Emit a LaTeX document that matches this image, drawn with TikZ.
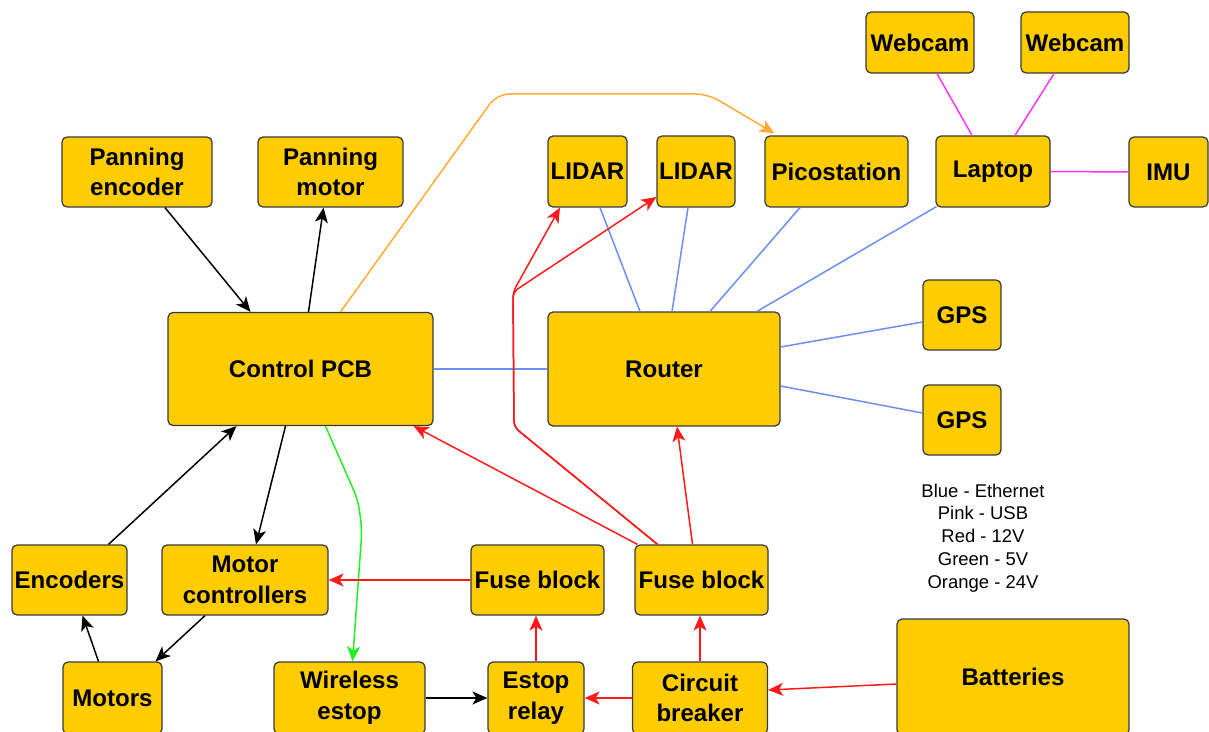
\documentclass[tikz,border=0pt]{standalone}
\usepackage{fontspec}
\setmainfont{Liberation Sans}
\usetikzlibrary{arrows.meta,calc}
\definecolor{boxfill}{HTML}{FFCC00}
\definecolor{boxline}{HTML}{36393D}
\definecolor{ethblue}{HTML}{6C8EF5}
\definecolor{usbpink}{HTML}{FF33FF}
\definecolor{pwrred}{HTML}{FF1A1A}
\definecolor{pwrgreen}{HTML}{22F022}
\definecolor{pwrorange}{HTML}{FFAA33}
\begin{document}
\begin{tikzpicture}[
  x=0.02cm, y=-0.02cm,
  box/.style={draw=boxline, fill=boxfill, rounded corners=0.1cm, align=center,
              inner sep=0pt, line width=0.7pt,
              font=\fontsize{13.7}{17.5}\selectfont\bfseries},
  wire/.style={line width=0.85pt},
  >={Stealth[length=0.3cm, width=0.26cm, inset=0.08cm]}
]
\useasboundingbox (0,0) rectangle (1209,732);

\node[box, minimum width=3.0cm,  minimum height=1.4cm]  (penc)   at (137,172)   {Panning\\encoder};
\node[box, minimum width=2.9cm,  minimum height=1.4cm]  (pmot)   at (330.5,172) {Panning\\motor};
\node[box, minimum width=5.3cm,  minimum height=2.26cm] (pcb)    at (300.5,369) {Control PCB};
\node[box, minimum width=4.64cm, minimum height=2.28cm] (router) at (664,369)   {Router};
\node[box, minimum width=1.58cm, minimum height=1.42cm] (lidara) at (587.5,171.5) {LIDAR};
\node[box, minimum width=1.56cm, minimum height=1.42cm] (lidarb) at (696,171.5) {LIDAR};
\node[box, minimum width=2.86cm, minimum height=1.42cm] (pico)   at (836.5,171.5) {Picostation};
\node[box, minimum width=2.28cm, minimum height=1.42cm] (laptop) at (993,171.5) {Laptop};
\node[box, minimum width=1.58cm, minimum height=1.4cm]  (imu)    at (1168.5,172) {IMU};
\node[box, minimum width=2.16cm, minimum height=1.22cm] (cama)   at (920,42.5)  {Webcam};
\node[box, minimum width=2.16cm, minimum height=1.22cm] (camb)   at (1075,42.5) {Webcam};
\node[box, minimum width=1.56cm, minimum height=1.4cm]  (gpsa)   at (962,315)   {GPS};
\node[box, minimum width=1.56cm, minimum height=1.4cm]  (gpsb)   at (962,420)   {GPS};
\node[box, minimum width=2.3cm,  minimum height=1.4cm]  (enc)    at (69.5,580)  {Encoders};
\node[box, minimum width=3.32cm, minimum height=1.4cm]  (mctl)   at (245,580)   {Motor\\controllers};
\node[box, minimum width=2.66cm, minimum height=1.4cm]  (fusea)  at (537.5,580) {Fuse block};
\node[box, minimum width=2.66cm, minimum height=1.4cm]  (fuseb)  at (701.5,580) {Fuse block};
\node[box, minimum width=1.98cm, minimum height=1.44cm] (motors) at (112.5,698) {Motors};
\node[box, minimum width=3.02cm, minimum height=1.44cm] (west)   at (349.5,698) {Wireless\\estop};
\node[box, minimum width=1.92cm, minimum height=1.44cm] (relay)  at (536,698)   {Estop\\relay};
\node[box, minimum width=2.7cm,  minimum height=1.44cm] (cbrk)   at (700,698)   {Circuit\\breaker};
\node[box, minimum width=4.64cm, minimum height=2.32cm] (batt)   at (1013,677)  {Batteries};

\node[align=center, inner sep=0pt, font=\fontsize{10.5}{13}\selectfont] (legend) at (983,538)
  {Blue - Ethernet\\Pink - USB\\Red - 12V\\Green - 5V\\Orange - 24V};

\draw[wire, ->] ($(penc.south)+(28,0)$) -- ($(pcb.north)+(-50,0)$);
\draw[wire, ->] ($(pcb.north)+(8,0)$) -- ($(pmot.south)+(-7,0)$);
\draw[wire, ->] ($(pcb.south)+(-15,0)$) -- ($(mctl.north)+(11,0)$);
\draw[wire, ->] ($(enc.north)+(39,0)$) -- ($(pcb.south west)+(69,0)$);
\draw[wire, ->] ($(mctl.south)+(-40,0)$) -- ($(motors.north)+(43,0)$);
\draw[wire, ->] ($(motors.north)+(-14,0)$) -- ($(enc.south)+(13,0)$);
\draw[wire, ->] (west.east) -- (relay.west);

\draw[wire, pwrorange, ->, rounded corners=0.25cm] ($(pcb.north)+(40,0)$) -- (497,94) -- (708,94) -- ($(pico.north west)+(10,-2)$);
\draw[wire, pwrgreen, ->, rounded corners=0.2cm] ($(pcb.south)+(25,0)$) -- (358,500) -- (362,530) -- ($(west.north)+(3,0)$);

\draw[wire, ethblue] (pcb.east) -- (router.west);
\draw[wire, ethblue] ($(router.north)+(-24,0)$) -- ($(lidara.south)+(12.5,0)$);
\draw[wire, ethblue] ($(router.north)+(8,0)$) -- ($(lidarb.south)+(-8,0)$);
\draw[wire, ethblue] ($(router.north)+(46,0)$) -- ($(pico.south)+(-36.5,0)$);
\draw[wire, ethblue] ($(router.north)+(93,0)$) -- ($(laptop.south west)+(1,-1)$);
\draw[wire, ethblue] ($(router.east)+(0,-22)$) -- ($(gpsa.west)+(0,7)$);
\draw[wire, ethblue] ($(router.east)+(0,17)$) -- ($(gpsb.west)+(0,-7)$);

\draw[wire, usbpink] ($(laptop.north)+(-21,0)$) -- ($(cama.south)+(17,0)$);
\draw[wire, usbpink] ($(laptop.north)+(22,0)$) -- ($(camb.south)+(-21,0)$);
\draw[wire, usbpink] (laptop.east) -- (imu.west);

\draw[wire, pwrred, ->] (fusea.west) -- (mctl.east);
\draw[wire, pwrred, ->] (relay.north) -- (relay.north |- fusea.south);
\draw[wire, pwrred, ->] (cbrk.north) -- (cbrk.north |- fuseb.south);
\draw[wire, pwrred, ->] (cbrk.west) -- (relay.east);
\draw[wire, pwrred, ->] ($(batt.west)+(0,7)$) -- ($(cbrk.east)+(0,-8)$);
\draw[wire, pwrred, ->] ($(fuseb.north)+(-64,0)$) -- ($(pcb.south east)+(-20,0)$);
\draw[wire, pwrred, ->] ($(fuseb.north)+(-9,0)$) -- ($(router.south)+(13,0)$);
\draw[wire, pwrred, ->, rounded corners=0.12cm] ($(fuseb.north)+(-44,0)$) -- (514,427) -- (513,292) -- ($(lidara.south)+(-27.5,0)$);
\draw[wire, pwrred, ->, rounded corners=0.12cm] ($(fuseb.north)+(-44,0)$) -- (514,427) -- (513,292) -- ($(lidarb.west)+(0,25.5)$);
\end{tikzpicture}
\end{document}
